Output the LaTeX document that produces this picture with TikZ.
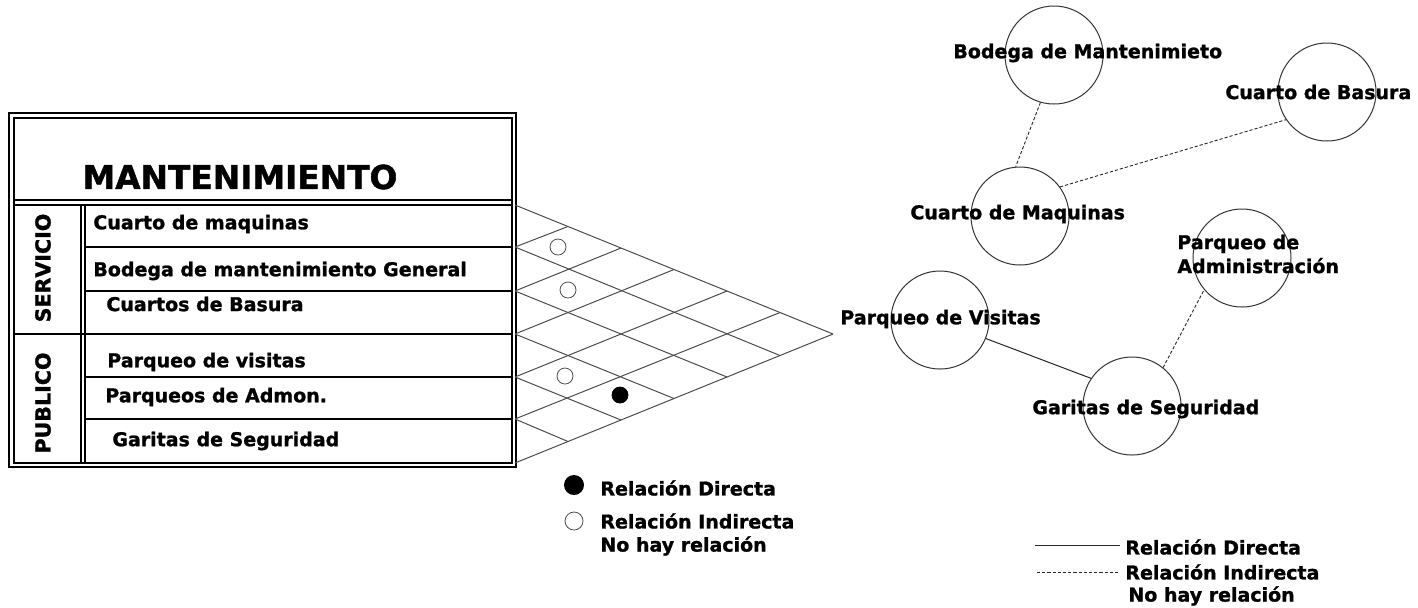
\documentclass[tikz,border=0pt]{standalone}
\usepackage{fontspec}
\setmainfont{DejaVu Sans}[BoldFeatures={FakeBold=1.2}]
\usetikzlibrary{calc}
\tikzset{
  lbl/.style={font=\bfseries\fontsize{9.5}{12}\selectfont, inner sep=0pt},
  room/.style={circle, draw=black!80, line width=0.5pt, minimum size=49pt, inner sep=0pt},
  gridline/.style={draw=black!70, line width=0.5pt},
  directa/.style={draw=black!85, line width=0.5pt},
  indirecta/.style={draw=black!85, line width=0.45pt, dash pattern=on 1.6pt off 1pt},
  relmark/.style={circle, draw=black!70, line width=0.4pt, minimum size=8pt, inner sep=0pt}
}
\begin{document}
\begin{tikzpicture}[x=0.5pt,y=-0.5pt]
  \useasboundingbox (0,0) rectangle (1418,607);
  % tabla
  \draw[line width=0.6pt] (9,113) rectangle (516,467);
  \draw[line width=0.6pt] (14,118) rectangle (512,463);
  \draw[line width=0.6pt] (14,200) -- (512,200) (14,205) -- (512,205);
  \draw[line width=0.6pt] (81,205) -- (81,463) (85,205) -- (85,463);
  \foreach \y in {247,291,377,419} \draw[line width=0.6pt] (85,\y) -- (512,\y);
  \draw[line width=0.6pt] (14,334) -- (512,334);
  \node[lbl, font=\bfseries\fontsize{16.4}{18}\selectfont] (titulo) at (240,177) {MANTENIMIENTO};
  \node[lbl, font=\bfseries\fontsize{10.3}{12}\selectfont, rotate=90] (servicio) at (43,268) {SERVICIO};
  \node[lbl, font=\bfseries\fontsize{10.3}{12}\selectfont, rotate=90] (publico) at (43,403) {PUBLICO};
  \node[lbl, anchor=west] (t1) at (93,224) {Cuarto de maquinas};
  \node[lbl, anchor=west] (t2) at (93,271) {Bodega de mantenimiento General};
  \node[lbl, anchor=west] (t3) at (106,304) {Cuartos de Basura};
  \node[lbl, anchor=west] (t4) at (107,362) {Parqueo de visitas};
  \node[lbl, anchor=west] (t5) at (105,397) {Parqueos de Admon.};
  \node[lbl, anchor=west] (t6) at (112,441) {Garitas de Seguridad};
  % matriz
  \foreach [count=\i from 0] \y in {205,247,291,334,377,419,463} \coordinate (r\i) at (515,\y);
  \coordinate (apex) at (833,334);
  \foreach \i [evaluate=\i as \fd using (6-\i)/6, evaluate=\i as \fu using \i/6] in {0,...,6} {
    \draw[gridline] (r\i) -- ($(r6)!\fd!(apex)$);
    \draw[gridline] (r\i) -- ($(r0)!\fu!(apex)$);
  }
  \node[relmark] (m01) at (558,247) {};
  \node[relmark] (m12) at (568,290) {};
  \node[relmark] (m34) at (565,376) {};
  \node[relmark, fill=black, draw=black] (m35) at (620,395) {};
  % leyenda matriz
  \node[circle, fill=black, minimum size=10pt, inner sep=0pt] (ld) at (574,485) {};
  \node[relmark, minimum size=9pt] (li) at (574,521) {};
  \node[lbl, anchor=west] (ldt) at (600,488) {Relación Directa};
  \node[lbl, anchor=west] (lit) at (600,521) {Relación Indirecta};
  \node[lbl, anchor=west] (lnt) at (600,546) {No hay relación};
  % diagrama
  \node[room] (bod) at (1054,55) {};
  \node[room] (bas) at (1327,92) {};
  \node[room] (maq) at (1020,216) {};
  \node[room] (adm) at (1242,258) {};
  \node[room] (vis) at (940,320) {};
  \node[room] (gar) at (1132,406) {};
  \draw[indirecta] (bod.254) -- (maq.95);
  \draw[indirecta] (maq.36) -- (bas.214);
  \draw[directa] (vis.338) -- (gar.146);
  \draw[indirecta] (gar.51) -- (adm.220);
  \node[lbl, anchor=west] (bodt) at (953,53) {Bodega de Mantenimieto};
  \node[lbl, anchor=west] (bast) at (1225,92) {Cuarto de Basura};
  \node[lbl, anchor=west] (maqt) at (910,214) {Cuarto de Maquinas};
  \node[lbl, anchor=west, align=left] (admt) at (1177,254) {Parqueo de\\Administración};
  \node[lbl, anchor=west] (vist) at (840,319) {Parqueo de Visitas};
  \node[lbl, anchor=west] (gart) at (1032,409) {Garitas de Seguridad};
  % leyenda diagrama
  \coordinate (la1) at (1035,545); \coordinate (lb1) at (1120,545);
  \coordinate (la2) at (1037,572); \coordinate (lb2) at (1120,572);
  \draw[directa] (la1) -- (lb1);
  \draw[indirecta] (la2) -- (lb2);
  \node[lbl, anchor=west] (rdt) at (1125,547) {Relación Directa};
  \node[lbl, anchor=west] (rit) at (1125,572) {Relación Indirecta};
  \node[lbl, anchor=west] (rnt) at (1128,596) {No hay relación};
\end{tikzpicture}
\end{document}
